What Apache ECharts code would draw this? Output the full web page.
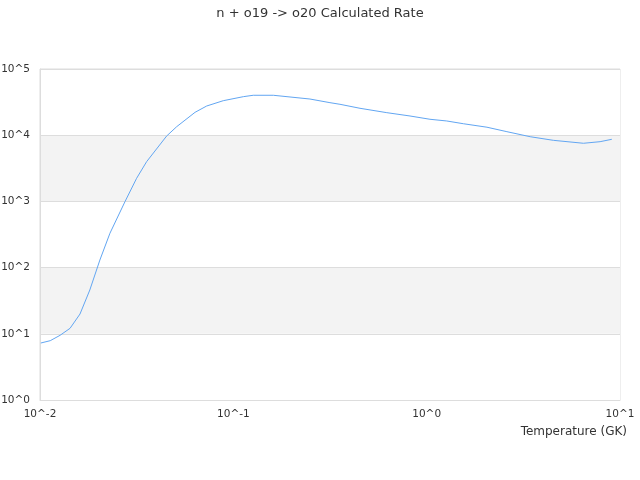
<!DOCTYPE html>
<html><head><meta charset="utf-8">
<script src="https://cdn.jsdelivr.net/npm/echarts@6/dist/echarts.min.js"></script>
<style>html,body{margin:0;padding:0;background:#fff}#c{width:640px;height:480px}</style>
</head><body><div id="c"></div>
<script>
const temperature = [0.0101,0.0113,0.0127,0.0143,0.0161,0.0181,0.0204,0.0230,0.0275,0.0316,0.0356,0.0452,0.0509,0.0634,0.0728,0.0887,0.1127,0.1268,0.161,0.249,0.316,0.356,0.452,0.622,0.820,1.04,1.27,1.55,2.05,2.60,3.43,4.52,6.47,7.89,9.07];
const rate = [7.26,7.87,9.49,12.1,19.9,45.9,130,330,989,2233,3981,9727,13430,22180,27600,33200,38200,40100,40100,35200,31000,29300,25500,21900,19500,17400,16400,14900,13200,11300,9490,8370,7550,7980,8670];
const titleText = 'n + o19 -> o20 Calculated Rate';
const xName = 'Temperature (GK)';

const chart = echarts.init(document.getElementById('c'));
const fmt = v => '10^' + Math.round(Math.log10(v));
chart.setOption({
  animation:false,
  textStyle:{fontFamily:'DejaVu Sans'},
  title:{text:titleText,left:'center',top:2,textStyle:{fontSize:13,fontWeight:'normal',color:'#333',fontFamily:'DejaVu Sans'}},
  grid:{left:40,right:20,top:69,bottom:80,containLabel:false,outerBoundsMode:'none',show:true,borderColor:'#ddd',borderWidth:1,backgroundColor:'transparent'},
  xAxis:{type:'log',logBase:10,min:0.01,max:10,name:xName,nameLocation:'end',nameGap:7,
    nameTextStyle:{align:'right',verticalAlign:'top',padding:[26,0,0,0],fontSize:12,color:'#333'},
    axisLine:{lineStyle:{color:'#ddd'}},axisTick:{show:false},splitLine:{show:false},
    axisLabel:{formatter:fmt,color:'#333',fontSize:10.5,margin:9}},
  yAxis:{type:'log',logBase:10,min:1,max:100000,
    axisLine:{show:true,lineStyle:{color:'#ddd'}},axisTick:{show:false},
    splitLine:{show:true,lineStyle:{color:'#ddd'}},
    splitArea:{show:true,areaStyle:{color:['#ffffff','#f3f3f3']}},
    axisLabel:{formatter:fmt,color:'#333',fontSize:10.5,margin:10}},
  series:[{type:'line',data:temperature.map((t,i)=>[t,rate[i]]),showSymbol:false,smooth:false,
    lineStyle:{width:1,color:'#62a6f2'}}]
});
</script></body></html>
